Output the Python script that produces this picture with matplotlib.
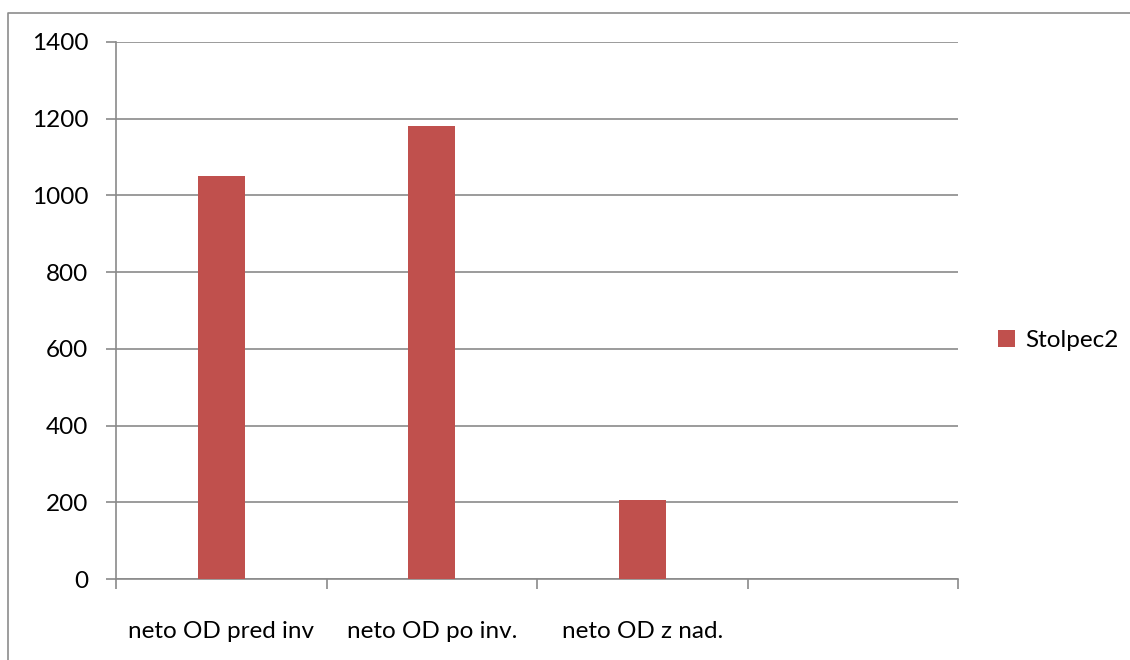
import numpy as np
import matplotlib
matplotlib.use("Agg")
import matplotlib.pyplot as plt
from matplotlib.lines import Line2D

categories = ["neto OD pred inv", "neto OD po inv.", "neto OD z nad.", ""]
values = [1050, 1180, 205, np.nan]
series_name = "Stolpec2"
yticks = [0, 200, 400, 600, 800, 1000, 1200, 1400]

plt.rcParams['font.family'] = ['Lato', 'DejaVu Sans']

fig = plt.figure(figsize=(11.3, 6.6), dpi=100)
ax = fig.add_axes([116 / 1130, 1 - 579 / 660, (958 - 116) / 1130, (579 - 42) / 660])

# outer chart border: only left and top edges are inside the picture
bx, by = 7.5 / 1130, 1 - 12.5 / 660
fig.add_artist(Line2D([bx, bx, 1.01], [-0.01, by, by], transform=fig.transFigure,
                      color="#8c8c8c", linewidth=1.2))

x = np.arange(len(categories))
ax.bar(x, values, width=0.223, color="#C0504D", label=series_name, zorder=3)

ax.set_xlim(-0.5, len(categories) - 0.5)
ax.set_ylim(0, 1400)
ax.set_yticks(yticks)
ax.set_yticklabels([str(v) for v in yticks])
ax.yaxis.grid(True, color="#8a8a8a", linewidth=1.2, zorder=0)
ax.set_axisbelow(True)

ax.set_xticks(x)
ax.set_xticklabels(categories)
ax.set_xticks(np.arange(len(categories) + 1) - 0.5, minor=True)
ax.tick_params(axis="x", which="major", length=0, pad=30, labelsize=17.5)
ax.tick_params(axis="x", which="minor", length=7, width=1.2, color="#8a8a8a")
ax.tick_params(axis="y", length=7, width=1.2, color="#8a8a8a", pad=13, labelsize=17.5)

for side in ["top", "right"]:
    ax.spines[side].set_visible(False)
for side in ["left", "bottom"]:
    ax.spines[side].set_color("#8a8a8a")
    ax.spines[side].set_linewidth(1.2)

ax.legend(loc="center left", bbox_to_anchor=(1.022, 0.445), frameon=False,
          fontsize=17.5, handlelength=0.7, handleheight=0.7, handletextpad=0.4)

fig.savefig("out.png", dpi=100)
